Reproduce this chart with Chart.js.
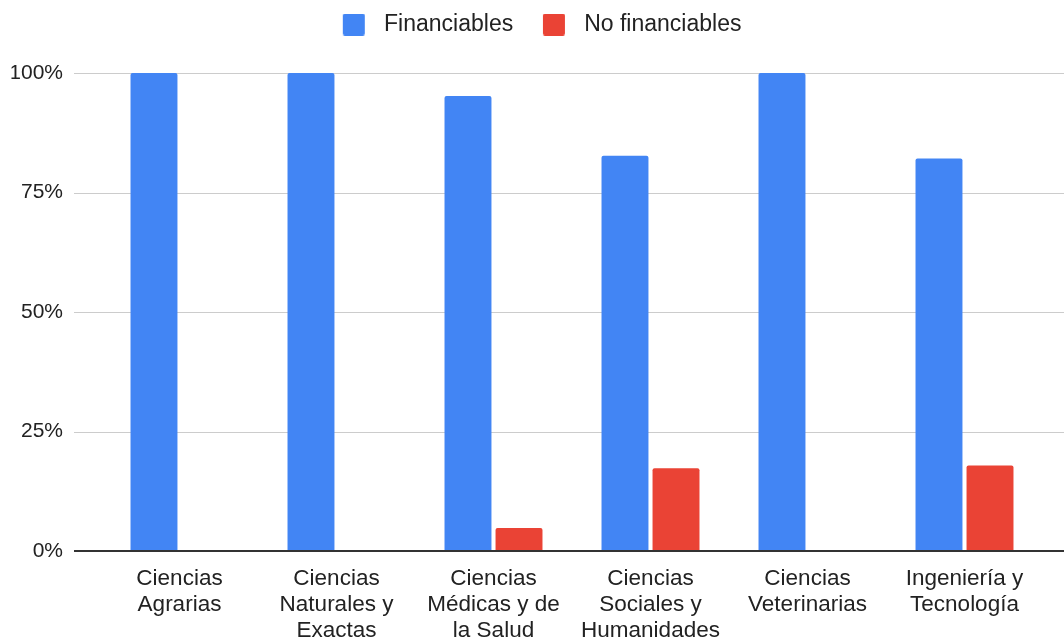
<!DOCTYPE html>
<html>
<head>
<meta charset="utf-8">
<script src="https://cdn.jsdelivr.net/npm/chart.js@4"></script>
<style>
  html, body { margin: 0; padding: 0; background: #fff; }
  #wrap { width: 1064px; height: 644px; }
</style>
</head>
<body>
<div id="wrap"><canvas id="chart"></canvas></div>
<script>
// categories (multi-line like in the original)
const categories = [
  ['Ciencias', 'Agrarias'],
  ['Ciencias', 'Naturales y', 'Exactas'],
  ['Ciencias', 'Médicas y de', 'la Salud'],
  ['Ciencias', 'Sociales y', 'Humanidades'],
  ['Ciencias', 'Veterinarias'],
  ['Ingeniería y', 'Tecnología']
];
const financiables = [100, 100, 95.2, 82.7, 100, 82.1];
const noFinanciables = [0, 0, 4.8, 17.3, 0, 17.9];
const yTicks = [0, 25, 50, 75, 100];

const BLUE = '#4285F4';
const RED = '#EA4335';
const FONT = 'Arial, "Liberation Sans", sans-serif';

// legend swatch: blank space on the left (gap between items) + rounded square
function swatch(color) {
  const c = document.createElement('canvas');
  c.width = 64; c.height = 22;
  const ctx = c.getContext('2d');
  ctx.fillStyle = color;
  ctx.beginPath();
  ctx.roundRect(32, 0, 22, 22, 2);
  ctx.fill();
  return c;
}

// horizontal grid lines go wider than the bar area, like the original
const gridPlugin = {
  id: 'wideGrid',
  beforeDatasetsDraw(chart) {
    const y = chart.scales.y, ctx = chart.ctx;
    ctx.save();
    ctx.strokeStyle = '#cccccc';
    ctx.lineWidth = 1;
    yTicks.forEach(v => {
      if (v === 0) return;
      const py = Math.round(y.getPixelForValue(v)) + 0.5;
      ctx.beginPath(); ctx.moveTo(74, py); ctx.lineTo(1064, py); ctx.stroke();
    });
    ctx.restore();
  },
  afterDatasetsDraw(chart) {
    const y = chart.scales.y, ctx = chart.ctx;
    const py = Math.round(y.getPixelForValue(0));
    ctx.save();
    ctx.strokeStyle = '#333333';
    ctx.lineWidth = 2;
    ctx.beginPath(); ctx.moveTo(74, py); ctx.lineTo(1064, py); ctx.stroke();
    ctx.restore();
  }
};

// extra space under the legend
const legendSpace = {
  id: 'legendSpace',
  beforeInit(chart) {
    const origFit = chart.legend.fit;
    chart.legend.fit = function () {
      origFit.bind(chart.legend)();
      this.height = 73 - 13;
    };
  }
};

new Chart(document.getElementById('chart'), {
  type: 'bar',
  data: {
    labels: categories,
    datasets: [
      { label: 'Financiables', data: financiables, backgroundColor: BLUE,
        borderRadius: { topLeft: 2, topRight: 2 }, borderSkipped: 'bottom' },
      { label: 'No financiables', data: noFinanciables, backgroundColor: RED,
        borderRadius: { topLeft: 2, topRight: 2 }, borderSkipped: 'bottom' }
    ]
  },
  plugins: [gridPlugin, legendSpace],
  options: {
    responsive: true,
    maintainAspectRatio: false,
    animation: false,
    layout: { padding: { top: 13, right: 21, bottom: 2, left: 11.5 } },
    datasets: { bar: { categoryPercentage: 0.65, barPercentage: 0.92 } },
    plugins: {
      tooltip: { enabled: false },
      legend: {
        position: 'top',
        labels: {
          color: '#222',
          font: { family: FONT, size: 23 },
          padding: 0,
          usePointStyle: true,
          pointStyleWidth: 59.5,
          generateLabels(chart) {
            return chart.data.datasets.map((ds, i) => ({
              text: ds.label,
              pointStyle: swatch(ds.backgroundColor),
              fontColor: '#222',
              datasetIndex: i,
              lineWidth: 0,
              hidden: false
            }));
          }
        }
      }
    },
    scales: {
      x: {
        offset: true,
        afterFit(scale) { scale.height = 91; },
        grid: { display: false, drawTicks: false },
        border: { display: false },
        ticks: {
          color: '#222',
          font: { family: FONT, size: 22.5, lineHeight: 26 / 22.5 },
          padding: 15,
          maxRotation: 0,
          autoSkip: false
        }
      },
      y: {
        min: 0,
        max: 100,
        afterFit(scale) { scale.width = 89.5; },
        afterBuildTicks(scale) { scale.ticks = yTicks.map(v => ({ value: v })); },
        grid: { display: false, drawTicks: false },
        border: { display: false },
        ticks: {
          color: '#222',
          font: { family: FONT, size: 21 },
          padding: 38,
          callback: v => v + '%'
        }
      }
    }
  }
});
</script>
</body>
</html>
